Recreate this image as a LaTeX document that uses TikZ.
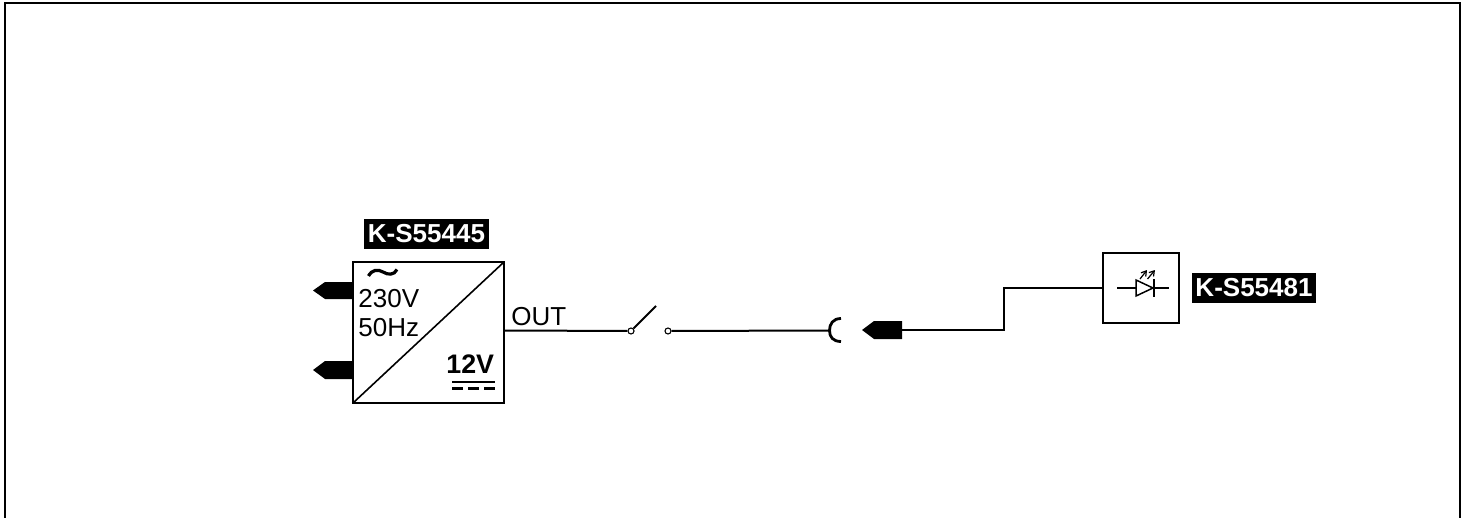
\documentclass[tikz,border=0pt]{standalone}
\usepackage{fontspec}
\usetikzlibrary{arrows.meta}
\setmainfont{Liberation Sans}
\tikzset{
  x=0.5pt,y=-0.5pt,
  wire/.style={draw=black,line width=1pt},
  plug/.style={fill=black,draw=none},
  tag/.style={fill=black,text=white,font=\fontsize{13}{14}\selectfont\bfseries,inner sep=0pt,outer sep=0pt,minimum height=14.7pt,anchor=center},
  lab/.style={font=\fontsize{13}{14}\selectfont,inner sep=0pt,anchor=base west},
  contact/.style={circle,draw=black,fill=white,line width=0.55pt,inner sep=0pt,minimum size=3pt},
  unit/.style={draw=black,line width=0.9pt,inner sep=0pt,outer sep=0pt,anchor=north west},
  ledarrow/.style={line width=0.6pt,-{Straight Barb[length=2.4pt,width=3pt]}}
}
\begin{document}
\begin{tikzpicture}
\useasboundingbox (0,0) rectangle (1471,518);
\fill[white] (0,0) rectangle (1471,518);
% frame
\draw[wire] (4.5,518) -- (4.5,3.3) -- (1460,3.3) -- (1460,518);
% power supply
\node[unit,minimum width=75.5pt,minimum height=70.5pt] (psu) at (353,262) {};
\draw[line width=0.8pt] (psu.south west) -- (psu.north east);
\node[tag,minimum width=62.5pt] (tag1) at (426.5,234) {K-S55445};
\node[lab] (v230) at (358,307) {230V};
\node[lab] (hz50) at (358,336) {50Hz};
\node[font=\fontsize{13.4}{14}\selectfont\bfseries,inner sep=0pt,anchor=base west] (v12) at (446,373) {12V};
\draw[line width=1.6pt] (368.5,276) .. controls (372,269.5) and (378,269) .. (383,272) .. controls (388,275) and (394,275.5) .. (397,269.5);
\draw[line width=1.2pt] (452,382) -- (495,382);
\draw[line width=1.2pt,dash pattern=on 5.5pt off 2.5pt] (452,388.5) -- (495,388.5);
% input plugs
\fill[plug] (353,282) -- (325,282) -- (313,290.5) -- (325,299) -- (353,299) -- cycle;
\fill[plug] (353,361) -- (325,361) -- (313,370) -- (325,379) -- (353,379) -- cycle;
% output
\node[lab] (out) at (511,325) {OUT};
\node[contact] (c1) at (631,331) {};
\node[contact] (c2) at (668,331) {};
\coordinate (psuout) at (504,330.5);
\draw[wire] (psuout) -- (c1);
\coordinate (blade) at (656,306);
\draw[line width=0.9pt] (c1) -- (blade);
\coordinate (sock) at (829,330.5);
\draw[wire] (c2) -- (sock);
\draw[line width=1.4pt] (841,318.5) .. controls (833,318.5) and (829.5,324) .. (829.5,330.5) .. controls (829.5,337) and (833,341.5) .. (841,341.5);
% right plug
\fill[plug] (902,321) -- (874,321) -- (862,330) -- (874,339) -- (902,339) -- cycle;
% LED box
\node[unit,minimum width=38pt,minimum height=35pt] (ledbox) at (1103,253) {};
\coordinate (p) at (902,330);
\draw[wire] (p) -- (1004,330) |- (ledbox.west |- 1004,288);
% LED
\draw[line width=0.6pt] (1117,288) -- (1136,288);
\draw[line width=0.75pt] (1136,280) -- (1153,288) -- (1136,296) -- cycle;
\draw[line width=0.9pt] (1154,279) -- (1154,297);
\draw[line width=0.6pt] (1154,288) -- (1169,288);
\draw[ledarrow] (1140,279) -- (1147,270);
\draw[ledarrow] (1147.5,279) -- (1155,270);
\node[tag,minimum width=62pt] (tag2) at (1254,288) {K-S55481};
\end{tikzpicture}
\end{document}
